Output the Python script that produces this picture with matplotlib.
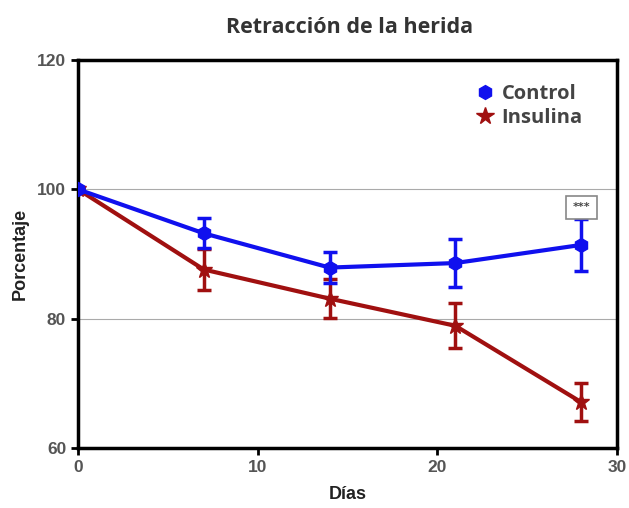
import numpy as np
import matplotlib
matplotlib.use("Agg")
import matplotlib.pyplot as plt
from matplotlib.lines import Line2D

# datos
dias = [0, 7, 14, 21, 28]
control = [100.0, 93.2, 87.9, 88.6, 91.4]
control_err = [0.0, 2.3, 2.4, 3.7, 4.0]
insulina = [100.0, 87.6, 83.1, 78.9, 67.1]
insulina_err = [0.0, 3.2, 3.0, 3.5, 2.9]

xticks = [0, 10, 20, 30]
yticks = [60, 80, 100, 120]

blue = "#1010ee"
red = "#a01010"

fig = plt.figure(figsize=(6.29, 5.08), dpi=100)
ax = fig.add_axes([78 / 629, 1 - 448 / 508, (617 - 78) / 629, (448 - 60) / 508])

for y in [80, 100]:
    ax.axhline(y, color="#aaaaaa", lw=0.8, zorder=0)

ax.errorbar(dias, control, yerr=control_err, color=blue, lw=3, marker="h",
            ms=10, capsize=5, capthick=2.5, elinewidth=2.5, zorder=3)
ax.errorbar(dias, insulina, yerr=insulina_err, color=red, lw=3, marker="*",
            ms=12, capsize=5, capthick=2.5, elinewidth=2.5, zorder=2)

ax.annotate("***", xy=(dias[-1], 97.2), ha="center", va="center", fontsize=8,
            fontweight="bold", color="#444444",
            bbox=dict(boxstyle="square,pad=0.6", fc="white", ec="#888888", lw=1.2))

ax.set_xlim(0, 30)
ax.set_ylim(60, 120)
ax.set_xticks(xticks)
ax.set_yticks(yticks)
for s in ax.spines.values():
    s.set_linewidth(2.5)
ax.tick_params(width=2, length=5, labelsize=12.5, labelcolor="#555555")
for lab in ax.get_xticklabels() + ax.get_yticklabels():
    lab.set_fontweight("bold")
    lab.set_family("Liberation Sans")

ax.set_xlabel("Días", fontsize=13, fontweight="bold", family="Liberation Sans",
              color="#222222", labelpad=8)
ax.set_ylabel("Porcentaje", fontsize=13, fontweight="bold", family="Liberation Sans",
              color="#222222", labelpad=6)
fig.text(0.555, 0.945, "Retracción de la herida", ha="center", va="center",
         fontsize=15.5, fontweight="bold", family="Open Sans", color="#333333")

handles = [Line2D([], [], color=blue, marker="h", ms=10, ls="none"),
           Line2D([], [], color=red, marker="*", ms=13, ls="none")]
leg = ax.legend(handles, ["Control", "Insulina"], loc="upper right", frameon=False,
                handlelength=0.9, handletextpad=0.35, bbox_to_anchor=(0.97, 0.985),
                labelspacing=0.2,
                prop={"family": "Open Sans", "weight": "bold", "size": 14.5})
for t in leg.get_texts():
    t.set_color("#444444")

fig.savefig("out.png", dpi=100)
